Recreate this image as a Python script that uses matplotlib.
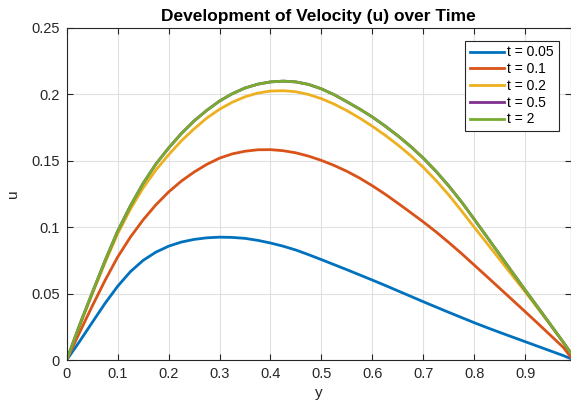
import matplotlib
matplotlib.use("Agg")
import matplotlib.pyplot as plt
from matplotlib.ticker import FormatStrFormatter, MultipleLocator

plt.rcParams['font.family'] = ['Liberation Sans', 'DejaVu Sans']

# velocity profiles u(y) at several times
y = [0, 0.025, 0.05, 0.075, 0.1, 0.125, 0.15, 0.175, 0.2, 0.225, 0.25,
     0.275, 0.3, 0.325, 0.35, 0.375, 0.4, 0.425, 0.45, 0.475, 0.5,
     0.525, 0.55, 0.575, 0.6, 0.625, 0.65, 0.675, 0.7, 0.725, 0.75,
     0.775, 0.8, 0.825, 0.85, 0.875, 0.9, 0.925, 0.95, 0.975, 0.99]

u_005 = [0, 0.0138, 0.0282, 0.0425, 0.0555, 0.0665, 0.0750, 0.0812, 0.0857, 0.0888, 0.0908,
         0.0920, 0.0925, 0.0923, 0.0916, 0.0901, 0.0881, 0.0857, 0.0828, 0.0793, 0.0756,
         0.0718, 0.0680, 0.0641, 0.0602, 0.0562, 0.0521, 0.0480, 0.0439, 0.0399, 0.0359,
         0.0320, 0.0281, 0.0244, 0.0208, 0.0173, 0.0138, 0.0103, 0.0068, 0.0033, 0.001]
u_01 = [0, 0.0205, 0.0405, 0.0597, 0.0775, 0.0925, 0.1055, 0.1168, 0.1265, 0.1347, 0.1415,
        0.1473, 0.1520, 0.1552, 0.1572, 0.1583, 0.1584, 0.1576, 0.1560, 0.1535, 0.1503,
        0.1465, 0.1421, 0.1370, 0.1312, 0.1249, 0.1181, 0.1111, 0.1040, 0.0965, 0.0885,
        0.0802, 0.0715, 0.0628, 0.0540, 0.0452, 0.0364, 0.0275, 0.0185, 0.0095, 0.002]
u_02 = [0, 0.0255, 0.0495, 0.0730, 0.0950, 0.1135, 0.1295, 0.1430, 0.1545, 0.1650, 0.1740,
        0.1822, 0.1888, 0.1941, 0.1982, 0.2010, 0.2025, 0.2028, 0.2020, 0.1999, 0.1968,
        0.1927, 0.1878, 0.1822, 0.1760, 0.1693, 0.1620, 0.1540, 0.1451, 0.1352, 0.1243,
        0.1124, 0.1000, 0.0879, 0.0757, 0.0635, 0.0514, 0.0388, 0.0262, 0.0133, 0.005]
u_05 = [0, 0.0260, 0.0505, 0.0745, 0.0970, 0.1160, 0.1330, 0.1475, 0.1596, 0.1705, 0.1800,
        0.1880, 0.1950, 0.2005, 0.2048, 0.2077, 0.2094, 0.2100, 0.2094, 0.2075, 0.2042,
        0.1998, 0.1945, 0.1890, 0.1830, 0.1762, 0.1689, 0.1609, 0.1520, 0.1421, 0.1311,
        0.1191, 0.1060, 0.0927, 0.0794, 0.0660, 0.0527, 0.0397, 0.0265, 0.0133, 0.005]
u_2 = [0, 0.0260, 0.0505, 0.0745, 0.0970, 0.1160, 0.1330, 0.1475, 0.1596, 0.1705, 0.1800,
       0.1880, 0.1950, 0.2005, 0.2048, 0.2077, 0.2094, 0.2100, 0.2094, 0.2075, 0.2042,
       0.1998, 0.1945, 0.1890, 0.1830, 0.1762, 0.1689, 0.1609, 0.1520, 0.1421, 0.1311,
       0.1191, 0.1060, 0.0927, 0.0794, 0.0660, 0.0527, 0.0397, 0.0265, 0.0133, 0.005]

times = ['0.05', '0.1', '0.2', '0.5', '2']
profiles = [u_005, u_01, u_02, u_05, u_2]
colors = ['#0072BD', '#D95319', '#EDB120', '#7E2F8E', '#77AC30']

fig = plt.figure(figsize=(5.71, 4.0), dpi=100)
ax = fig.add_axes([0.1168, 0.1, 0.8832, 0.83])

for t, u, c in zip(times, profiles, colors):
    ax.plot(y, u, color=c, lw=2, label='t = ' + t)

ax.set_xlim(0, 0.99)
ax.set_ylim(0, 0.25)
ax.xaxis.set_major_locator(MultipleLocator(0.1))
ax.yaxis.set_major_locator(MultipleLocator(0.05))
ax.xaxis.set_major_formatter(FormatStrFormatter('%g'))
ax.yaxis.set_major_formatter(FormatStrFormatter('%g'))

ax.grid(True, color='#e0e0e0', lw=0.8)
ax.set_axisbelow(True)
ax.tick_params(direction='in', top=True, right=True, length=4, width=0.8,
               labelsize=10.5, colors='#262626')
ax.tick_params(axis='x', pad=5)
ax.tick_params(axis='y', pad=5)
for s in ax.spines.values():
    s.set_color('#262626')
    s.set_linewidth(0.8)

ax.set_xlabel('y', fontsize=11, color='#262626', labelpad=4)
ax.set_ylabel('u', fontsize=11, color='#262626', labelpad=8)
ax.set_title('Development of Velocity (u) over Time', fontsize=12.5,
             fontweight='bold', pad=5)

leg = ax.legend(loc='upper right', fontsize=10, fancybox=False, framealpha=1,
                edgecolor='#262626', handlelength=2.45, handletextpad=0.2,
                labelspacing=0.2, borderaxespad=0.9, borderpad=0.35)
leg.get_frame().set_linewidth(0.8)

fig.savefig('out.png', dpi=100)
